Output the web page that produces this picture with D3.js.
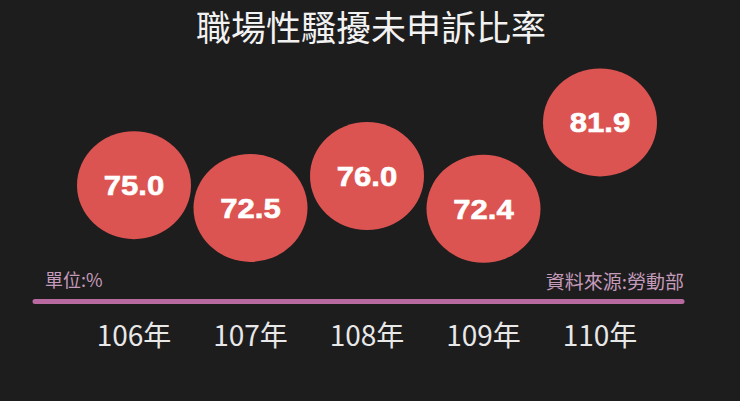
<!DOCTYPE html>
<html lang="zh-Hant">
<head>
  <meta charset="UTF-8">
  <title>職場性騷擾未申訴比率</title>
  <script src="https://d3js.org/d3.v7.min.js"></script>
  <style>
    html, body {
      margin: 0;
      padding: 0;
      background: #1e1d1e;
      overflow: hidden;
    }
    svg { display: block; }
    .title {
      font-family: "Noto Sans CJK TC", sans-serif;
      font-size: 35px;
      fill: #f2f2f2;
    }
    .val {
      font-family: "Liberation Sans", Arial, sans-serif;
      font-weight: bold;
      font-size: 27px;
      fill: #ffffff;
      stroke: #ffffff;
      stroke-width: 0.6px;
    }
    .year {
      font-family: "Noto Sans CJK TC", sans-serif;
      font-size: 28px;
      fill: #e8e8e8;
    }
    .note {
      font-family: "Noto Sans CJK TC", sans-serif;
      fill: #c49bbb;
    }
  </style>
</head>
<body>

<svg width="740" height="401"></svg>

<script>
  const width = 740, height = 401;

  // data
  const years = ["106年", "107年", "108年", "109年", "110年"];
  const rates = [75.0, 72.5, 76.0, 72.4, 81.9];

  const svg = d3.select("svg");

  const x = d3.scalePoint()
    .domain(years)
    .range([134, 600]);

  const y = d3.scaleLinear()
    .domain([70, 85])
    .range([230.6, 94.3]);

  const data = years.map((d, i) => ({ year: d, rate: rates[i] }));

  // title
  svg.append("text")
    .attr("class", "title")
    .attr("x", 371)
    .attr("y", 41)
    .attr("text-anchor", "middle")
    .text("職場性騷擾未申訴比率");

  // bubbles
  const g = svg.selectAll(".bubble")
    .data(data)
    .enter()
    .append("g")
    .attr("class", "bubble")
    .attr("transform", d => `translate(${x(d.year)},${y(d.rate)})`);

  g.append("ellipse")
    .attr("rx", 57)
    .attr("ry", 54)
    .attr("fill", "#dc5451");

  g.append("text")
    .attr("class", "val")
    .attr("text-anchor", "middle")
    .attr("dy", "0.36em")
    .attr("transform", "scale(1.15,1)")
    .text(d => d.rate.toFixed(1));

  // baseline
  svg.append("line")
    .attr("x1", 35)
    .attr("x2", 682)
    .attr("y1", 301.5)
    .attr("y2", 301.5)
    .attr("stroke", "#b8699f")
    .attr("stroke-width", 5)
    .attr("stroke-linecap", "round");

  svg.append("text")
    .attr("class", "note")
    .attr("x", 45)
    .attr("y", 287)
    .style("font-size", "18px")
    .text("單位:%");

  svg.append("text")
    .attr("class", "note")
    .attr("x", 684)
    .attr("y", 289)
    .attr("text-anchor", "end")
    .style("font-size", "19px")
    .text("資料來源:勞動部");

  // year labels
  svg.selectAll(".year")
    .data(years)
    .enter()
    .append("text")
    .attr("class", "year")
    .attr("x", d => x(d))
    .attr("y", 346)
    .attr("text-anchor", "middle")
    .text(d => d);
</script>

</body>
</html>
